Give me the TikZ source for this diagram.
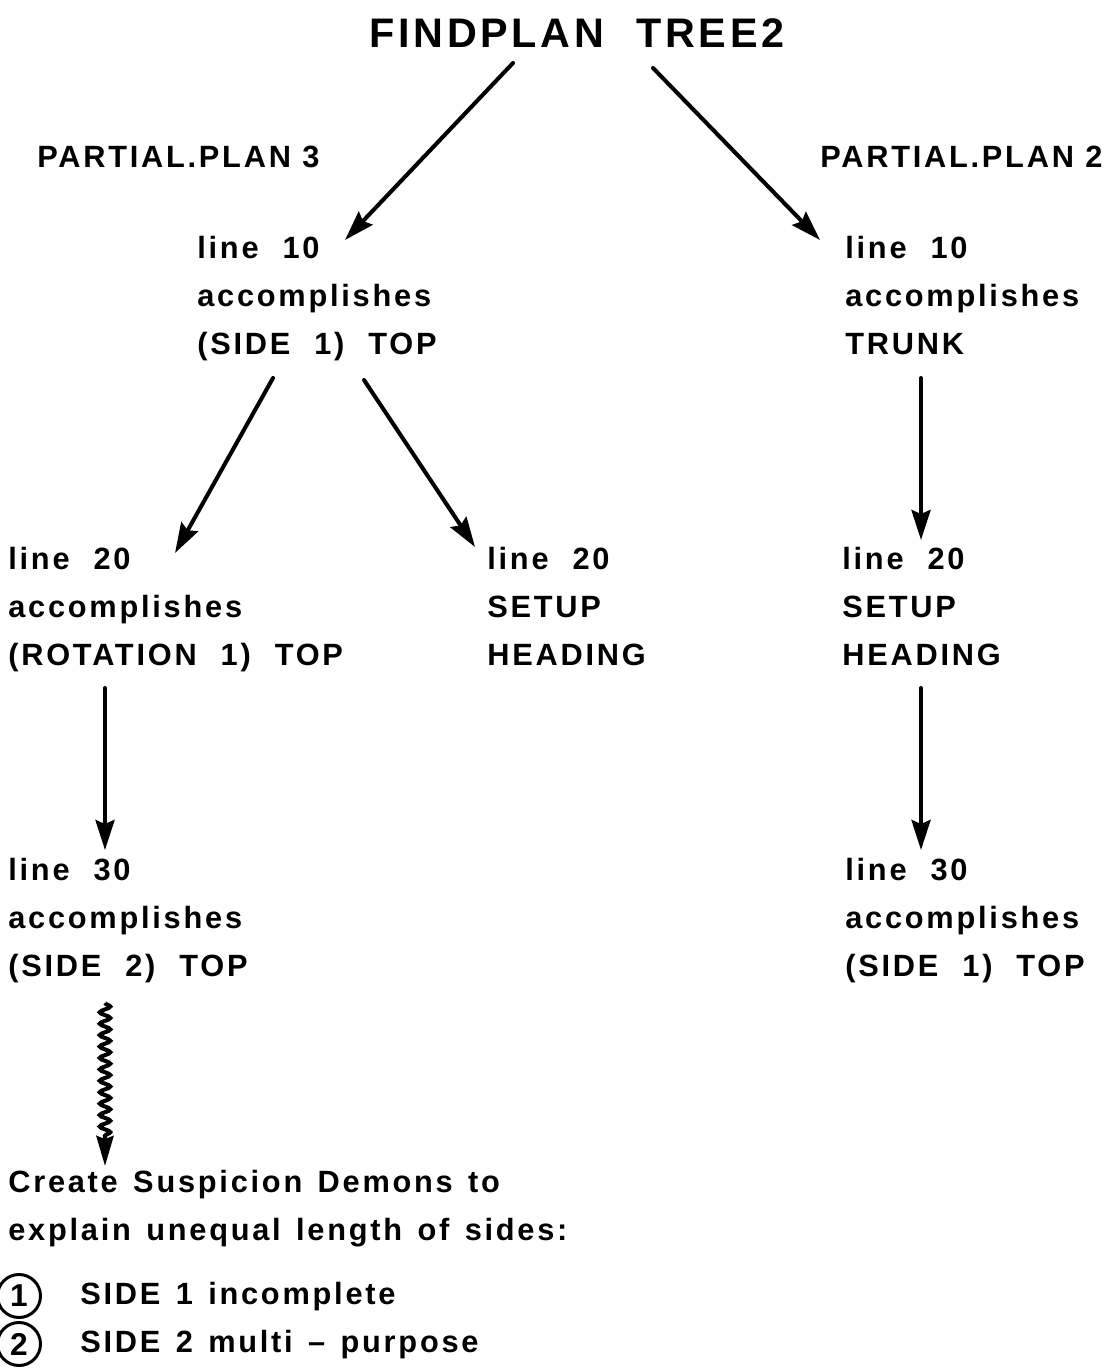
\documentclass[tikz,border=0pt]{standalone}
\usepackage{fontspec}
\setmainfont{Liberation Sans}[LetterSpace=9]
\usepackage{tikz}
\usetikzlibrary{arrows.meta,decorations.pathmorphing,positioning,calc}

% wider gaps between words
\newcommand\widegap{\spaceskip 0.78em\relax}
\newcommand\midgap{\spaceskip 0.5em\relax}

\begin{document}
\begin{tikzpicture}[x=0.02cm, y=-0.02cm,
planline/.style={anchor=north west, inner sep=0pt, align=left,
  font=\bfseries\fontsize{17.5pt}{27.2pt}\selectfont\widegap},
noteline/.style={anchor=north west, inner sep=0pt, align=left,
  font=\bfseries\fontsize{17.5pt}{27.2pt}\selectfont\midgap},
heading/.style={anchor=north west, inner sep=0pt,
  font=\bfseries\fontsize{17.5pt}{21pt}\selectfont},
link/.style={line width=2.3pt, line cap=round,
  -{Stealth[length=0.6cm,width=0.38cm,inset=0.08cm]}},
demon/.style={line width=2.3pt,
  decorate, decoration={snake, amplitude=3pt, segment length=6.5pt, post length=0.6cm},
  -{Stealth[length=0.6cm,width=0.34cm,inset=0.06cm]}},
numcirc/.style={circle, draw, line width=1.7pt, inner sep=0pt, minimum size=0.86cm,
  font=\bfseries\fontsize{18pt}{21pt}\selectfont},
]

\useasboundingbox (0,0) rectangle (1105,1368);

\node[anchor=north, inner sep=0pt, font=\bfseries\fontsize{23.5pt}{28pt}\selectfont\widegap]
  (title) at (577,18) {FINDPLAN TREE2};

\node[heading] (pp3) at (37,146) {PARTIAL.PLAN 3};
\node[heading] (pp2) at (820,146) {PARTIAL.PLAN 2};

% partial plan 3
\node[planline] (p3a) at (197,236) {line 10\\accomplishes\\(SIDE 1) TOP};
\node[planline] (p3b) at (8,547)   {line 20\\accomplishes\\(ROTATION 1) TOP};
\node[planline] (p3c) at (487,547) {line 20\\SETUP\\HEADING};
\node[planline] (p3d) at (8,858)   {line 30\\accomplishes\\(SIDE 2) TOP};

% partial plan 2
\node[planline] (p2a) at (845,236) {line 10\\accomplishes\\TRUNK};
\node[planline] (p2b) at (842,547) {line 20\\SETUP\\HEADING};
\node[planline] (p2c) at (845,858) {line 30\\accomplishes\\(SIDE 1) TOP};

% demons
\node[noteline] (demons) at (8,1170) {Create Suspicion Demons to\\explain unequal length of sides:};
\node[numcirc] (n1) at (19,1296) {1};
\node[numcirc] (n2) at (19,1344) {2};
\node[noteline, anchor=west] (s1) at (80,1297) {SIDE 1 incomplete};
\node[noteline, anchor=west] (s2) at (80,1345) {SIDE 2 multi – purpose};

\draw[link] ($(title.north)+(-64,45)$) -- ($(p3a.north west)+(148,4)$);
\draw[link] ($(title.north)+(76,50)$) -- ($(p2a.north west)+(-25,4)$);

\draw[link] ($(p3a.north west)+(76,142)$) -- ($(p3b.north west)+(167,6)$);
\draw[link] ($(p3a.north west)+(167,144)$) -- ($(p3c.north west)+(-12,0)$);
\draw[link] ($(p3b.north west)+(97,141)$) -- ($(p3d.north west)+(97,-8)$);

\draw[link] ($(p2a.north west)+(76,142)$) -- ($(p2b.north west)+(79,-7)$);
\draw[link] ($(p2b.north west)+(79,141)$) -- ($(p2c.north west)+(76,-8)$);

\draw[demon] ($(p3d.north west)+(97,145)$) -- ($(demons.north west)+(97,-4)$);

\end{tikzpicture}
\end{document}
